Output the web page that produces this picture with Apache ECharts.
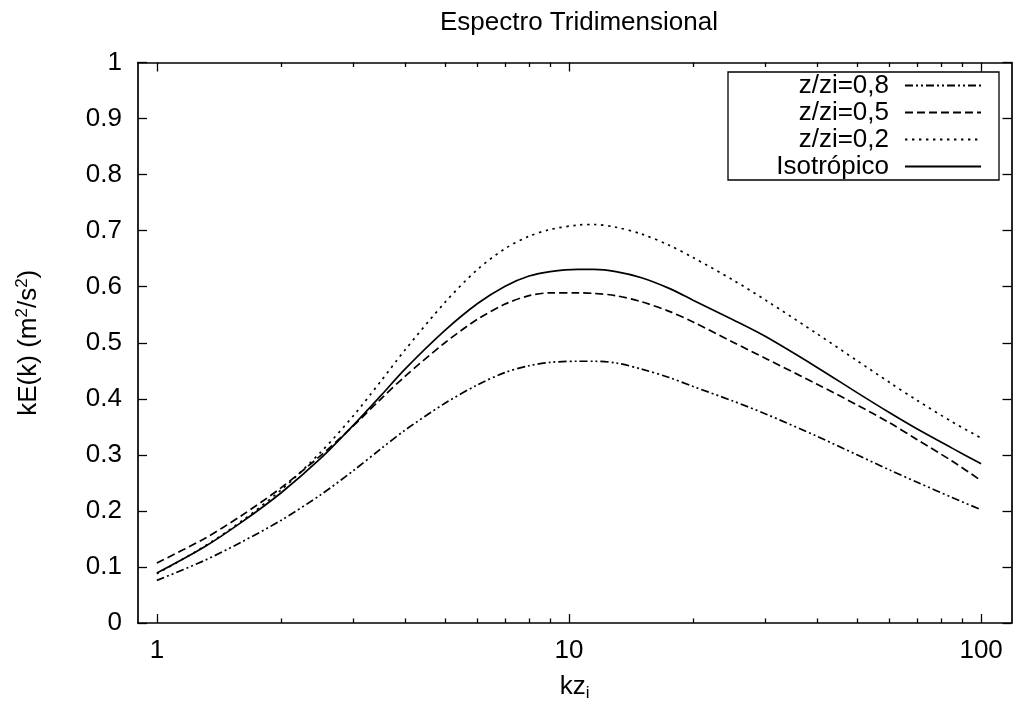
<!DOCTYPE html>
<html>
<head>
<meta charset="utf-8">
<script src="https://cdn.jsdelivr.net/npm/echarts@6/dist/echarts.min.js"></script>
<style>
html,body{margin:0;padding:0;background:#fff;}
#chart{width:1014px;height:709px;}
</style>
</head>
<body>
<div id="chart"></div>
<script>
// ---- data ----
const kValues = [1, 1.3, 1.6, 2, 2.5, 3, 3.5, 4, 5, 6, 7, 8, 9, 10.5, 11.5, 13, 15, 17.5, 20, 25, 30, 40, 50, 60, 70, 85, 100];
const zi08 = [0.076, 0.111, 0.144, 0.183, 0.229, 0.272, 0.311, 0.344, 0.392, 0.425, 0.447, 0.459, 0.465, 0.467, 0.467, 0.464, 0.453, 0.438, 0.422, 0.396, 0.373, 0.333, 0.300, 0.273, 0.251, 0.224, 0.202];
const zi05 = [0.107, 0.150, 0.191, 0.241, 0.299, 0.352, 0.400, 0.440, 0.500, 0.542, 0.569, 0.584, 0.589, 0.589, 0.588, 0.584, 0.573, 0.556, 0.537, 0.501, 0.472, 0.426, 0.389, 0.357, 0.327, 0.289, 0.254];
const zi02 = [0.088, 0.136, 0.181, 0.237, 0.305, 0.370, 0.432, 0.487, 0.572, 0.631, 0.668, 0.690, 0.702, 0.710, 0.711, 0.706, 0.694, 0.674, 0.652, 0.612, 0.576, 0.516, 0.468, 0.429, 0.397, 0.359, 0.330];
const iso = [0.089, 0.135, 0.179, 0.232, 0.294, 0.353, 0.406, 0.453, 0.522, 0.570, 0.601, 0.619, 0.627, 0.631, 0.631, 0.627, 0.616, 0.597, 0.576, 0.541, 0.511, 0.456, 0.411, 0.375, 0.346, 0.312, 0.284];
const seriesNames = ['z/zi=0,8', 'z/zi=0,5', 'z/zi=0,2', 'Isotrópico'];
const xMajorTicks = [1, 10, 100];
const xMinorTicks = [2, 3, 4, 5, 6, 7, 8, 9, 20, 30, 40, 50, 60, 70, 80, 90];
const titleText = 'Espectro Tridimensional';

// ---- chart ----
const FONT = 'Liberation Sans';
const FS = 26;
const chart = echarts.init(document.getElementById('chart'), null, {renderer: 'canvas'});
const pairs = vals => kValues.map((k, i) => [k, vals[i]]);
const dashes = [[8, 3, 2, 3, 2, 3], [8, 4], [2.4, 4.6], 'solid'];
const valuesList = [zi08, zi05, zi02, iso];

function xAxisDef(pos, major, show) {
  return {
    type: 'log', logBase: 10, min: 0.9, max: 118.5, position: pos,
    axisLine: {show: show, onZero: false, lineStyle: {color: '#000', width: 1.7}},
    axisTick: {show: true, inside: true, length: major ? 9 : 4.5,
      customValues: major ? xMajorTicks : xMinorTicks,
      lineStyle: {color: '#000', width: 1.3}},
    axisLabel: {show: pos === 'bottom' && major, customValues: xMajorTicks,
      color: '#000', fontFamily: FONT, fontSize: FS, margin: 15},
    splitLine: {show: false},
    minorTick: {show: false}
  };
}

const option = {
  animation: false,
  backgroundColor: '#fff',
  title: {
    text: titleText, left: 435, top: 5,
    textStyle: {color: '#000', fontFamily: FONT, fontSize: FS, fontWeight: 'normal'}
  },
  grid: {left: 138, right: 2.5, top: 62.5, bottom: 86, containLabel: false},
  legend: {
    orient: 'vertical', left: 728, top: 72,
    align: 'right',
    itemWidth: 76, itemHeight: 14, itemGap: 0,
    padding: [0, 17, 0, 48],
    borderColor: '#000', borderWidth: 1.3,
    data: seriesNames,
    itemStyle: {color: 'rgba(0,0,0,0)', borderWidth: 0, opacity: 0},
    textStyle: {color: '#000', fontFamily: FONT, fontSize: FS, width: 113, align: 'right',
      lineHeight: 27, padding: [0, 11, 0, 0]}
  },
  xAxis: [
    Object.assign(xAxisDef('bottom', true, true), {
      name: '{n|kz}{s|i}', nameLocation: 'middle', nameGap: 49,
      nameTextStyle: {rich: {
        n: {fontFamily: FONT, fontSize: FS, color: '#000'},
        s: {fontFamily: FONT, fontSize: 17, color: '#000', padding: [13, 0, 0, 0]}
      }}
    }),
    xAxisDef('bottom', false, false),
    xAxisDef('top', true, true),
    xAxisDef('top', false, false)
  ],
  yAxis: [
    {
      type: 'value', min: 0, max: 1, interval: 0.1, position: 'left',
      axisLine: {show: true, onZero: false, lineStyle: {color: '#000', width: 1.7}},
      axisTick: {inside: true, length: 9, lineStyle: {color: '#000', width: 1.3}},
      axisLabel: {color: '#000', fontFamily: FONT, fontSize: FS, margin: 16},
      splitLine: {show: false},
      name: '{n|kE(k) (m}{s|2}{n|/s}{s|2}{n|)}', nameLocation: 'middle', nameGap: 94,
      nameTextStyle: {rich: {
        n: {fontFamily: FONT, fontSize: FS, color: '#000'},
        s: {fontFamily: FONT, fontSize: 17, color: '#000', padding: [0, 0, 13, 0]}
      }}
    },
    {
      type: 'value', min: 0, max: 1, interval: 0.1, position: 'right',
      axisLine: {show: true, onZero: false, lineStyle: {color: '#000', width: 1.7}},
      axisTick: {inside: true, length: 9, lineStyle: {color: '#000', width: 1.3}},
      axisLabel: {show: false},
      splitLine: {show: false}
    }
  ],
  series: seriesNames.map((name, i) => ({
    name: name, type: 'line', xAxisIndex: 0, yAxisIndex: 0,
    data: pairs(valuesList[i]),
    smooth: 0.3, symbol: 'none', showSymbol: false,
    lineStyle: {color: '#000', width: 1.7, type: dashes[i]},
    itemStyle: {color: 'rgba(0,0,0,0)'},
    z: 3
  }))
};
chart.setOption(option);
</script>
</body>
</html>
